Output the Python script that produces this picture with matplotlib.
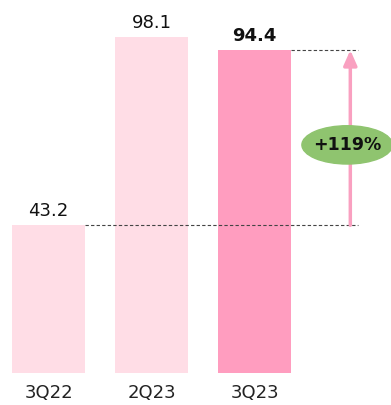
import matplotlib.pyplot as plt
from matplotlib.patches import Ellipse

# Valores por trimestre
trimestres = ["3Q22", "2Q23", "3Q23"]
valores = [43.2, 98.1, 94.4]
crecimiento = "+119%"

colores = ["#FFDDE6", "#FFDDE6", "#FF9DBF"]

fig = plt.figure(figsize=(3.91, 4.05), dpi=100)
ax = fig.add_axes([0, 0, 1, 1])
ax.set_xlim(-0.471, 3.325)
ax.set_ylim(-9.36, 109.06)
ax.axis("off")

x = list(range(len(trimestres)))
ancho = 0.709
ax.bar(x, valores, width=ancho, color=colores)

# Etiquetas de valor y de trimestre
for i, v in enumerate(valores):
    peso = "bold" if i == 2 else "normal"
    ax.text(i, v + 1.5, f"{v:.1f}", ha="center", va="bottom", fontsize=13,
            fontweight=peso, color="#111111")
    ax.text(i, -5.9, trimestres[i], ha="center", va="center", fontsize=13,
            color="#222222")

# Líneas de referencia punteadas
xr = 3.0
ax.plot([0 + ancho / 2, xr], [valores[0], valores[0]], ls=(0, (3, 2)), lw=0.8, color="#444444")
ax.plot([2 + ancho / 2, xr], [valores[2], valores[2]], ls=(0, (3, 2)), lw=0.8, color="#444444")

# Flecha de crecimiento
xa = 2.93
ax.annotate("", xy=(xa, valores[2]), xytext=(xa, valores[0]),
            arrowprops=dict(arrowstyle="-|>,head_width=0.4,head_length=0.9",
                            color="#F9A0C0", lw=2.5, shrinkA=0, shrinkB=0))

ym = 66.7
ax.add_patch(Ellipse((2.9, ym), 0.88, 11.2, color="#8FC46F", zorder=3))
ax.text(2.9, ym, crecimiento, ha="center", va="center", fontsize=12.5,
        fontweight="bold", color="#111111", zorder=4)

fig.savefig("out.png", dpi=100)
